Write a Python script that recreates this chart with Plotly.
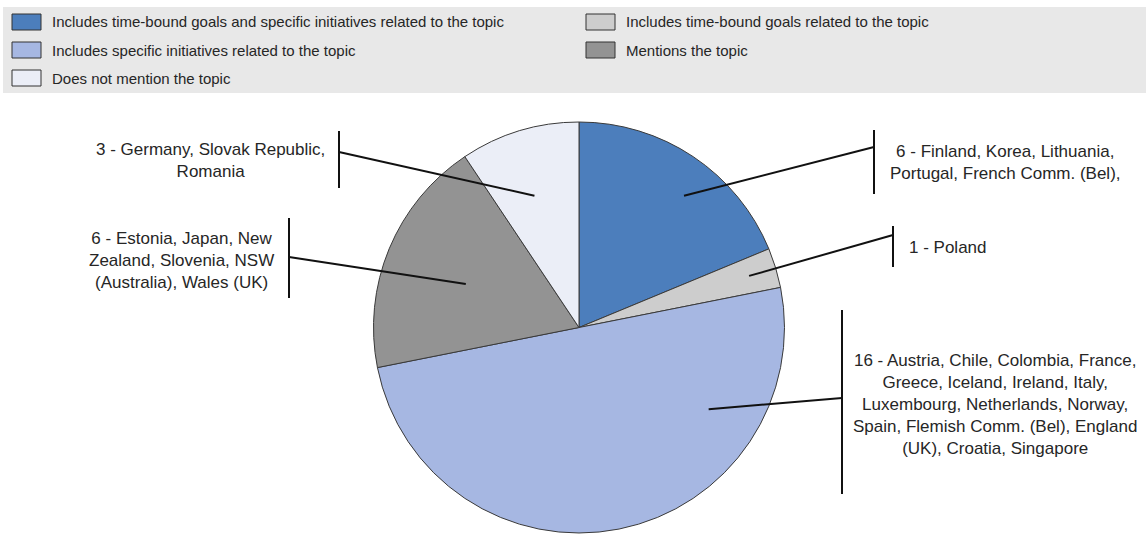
import math
import plotly.graph_objects as go

# Categories (clockwise from 12 o'clock) and number of systems in each
categories = [
    "Includes time-bound goals and specific initiatives related to the topic",
    "Includes time-bound goals related to the topic",
    "Includes specific initiatives related to the topic",
    "Mentions the topic",
    "Does not mention the topic",
]
counts = [6, 1, 16, 6, 3]
label_texts = [
    "6 - Finland, Korea, Lithuania,<br>Portugal, French Comm. (Bel),",
    "1 - Poland",
    "16 - Austria, Chile, Colombia, France,<br>Greece, Iceland, Ireland, Italy,<br>"
    "Luxembourg, Netherlands, Norway,<br>Spain, Flemish Comm. (Bel), England<br>"
    "(UK), Croatia, Singapore",
    "6 - Estonia, Japan, New<br>Zealand, Slovenia, NSW<br>(Australia), Wales (UK)",
    "3 - Germany, Slovak Republic,<br>Romania",
]
colors = ["#4C7EBC", "#CDCDCD", "#A6B7E2", "#939393", "#EBEEF7"]

W, H = 1146, 534
FONT = "Liberation Sans, Arial, sans-serif"

# Pie placement in pixels
CX, CY, R = 579.0, 327.5, 205.5


def px(x):
    return x / W


def py(y):
    return 1 - y / H


fig = go.Figure(
    go.Pie(
        labels=categories,
        values=counts,
        sort=False,
        direction="clockwise",
        rotation=0,
        marker=dict(colors=colors, line=dict(color="#3A3A3A", width=1)),
        textinfo="none",
        hoverinfo="label+value",
        showlegend=False,
        domain=dict(x=[px(CX - R), px(CX + R)], y=[py(CY + R), py(CY - R)]),
    )
)

# Leader-line layout per slice: anchor angle offset from the slice middle (deg),
# anchor radius fraction, bracket x, bracket top/bottom, join y, text x, text y, anchor
label_layout = [
    dict(doff=4.8, rf=0.82, bx=874, b0=130, b1=194, jy=147, tx=1006, ty=163, xa="center"),
    dict(doff=0.0, rf=0.865, bx=893, b0=226, b1=267, jy=235, tx=907, ty=247, xa="left"),
    dict(doff=-46.5, rf=0.746, bx=842, b0=310, b1=494, jy=398, tx=995, ty=404, xa="center"),
    dict(doff=-1.5, rf=0.59, bx=289, b0=218, b1=298, jy=257, tx=181, ty=260, xa="center"),
    dict(doff=-1.8, rf=0.677, bx=339, b0=131, b1=188, jy=152, tx=210, ty=161, xa="center"),
]

shapes = []
annotations = []
total = sum(counts)
start = 0.0
for cnt, text, lay in zip(counts, label_texts, label_layout):
    span = 360.0 * cnt / total
    ang = math.radians(start + span / 2 + lay["doff"])
    start += span
    ax = CX + lay["rf"] * R * math.sin(ang)
    ay = CY - lay["rf"] * R * math.cos(ang)
    line = dict(color="#111111", width=2)
    shapes.append(dict(type="line", xref="paper", yref="paper",
                       x0=px(ax), y0=py(ay), x1=px(lay["bx"]), y1=py(lay["jy"]), line=line))
    shapes.append(dict(type="line", xref="paper", yref="paper",
                       x0=px(lay["bx"]), y0=py(lay["b0"]), x1=px(lay["bx"]), y1=py(lay["b1"]), line=line))
    annotations.append(dict(text=text, xref="paper", yref="paper", x=px(lay["tx"]), y=py(lay["ty"]),
                            xanchor=lay["xa"], yanchor="middle", showarrow=False, align="center",
                            font=dict(family=FONT, size=17, color="#262626")))

# Legend box: two columns, filled row by row
shapes.append(dict(type="rect", xref="paper", yref="paper", x0=px(3), x1=px(W), y0=py(93), y1=py(7),
                   fillcolor="#E8E8E8", line=dict(width=0), layer="below"))
col_x = [12, 586]
row_y = [22, 50, 78]
for i, (cat, col) in enumerate(zip(categories, colors)):
    cx0 = col_x[i % 2]
    ry = row_y[i // 2]
    shapes.append(dict(type="rect", xref="paper", yref="paper",
                       x0=px(cx0), x1=px(cx0 + 29), y0=py(ry + 8), y1=py(ry - 8),
                       fillcolor=col, line=dict(color="#333333", width=1)))
    annotations.append(dict(text=cat, xref="paper", yref="paper", x=px(cx0 + 38), y=py(ry),
                            xanchor="left", yanchor="middle", showarrow=False,
                            font=dict(family=FONT, size=15, color="#262626")))

fig.update_layout(
    width=W, height=H,
    margin=dict(l=0, r=0, t=0, b=0),
    paper_bgcolor="white",
    plot_bgcolor="white",
    shapes=shapes,
    annotations=annotations,
)

fig.write_html("out.html")
